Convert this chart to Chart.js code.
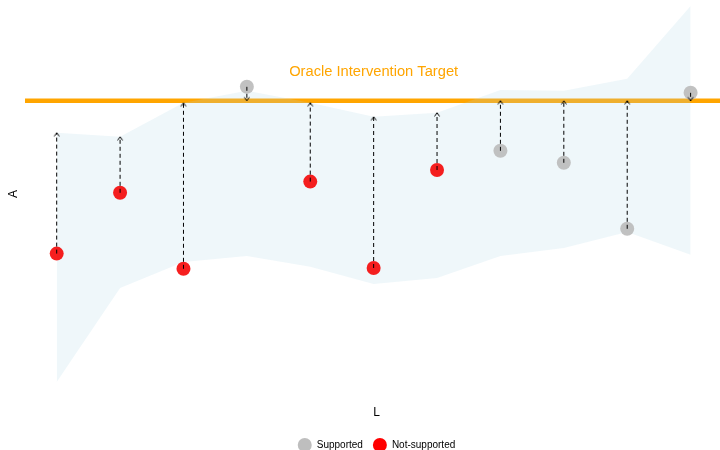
<!DOCTYPE html>
<html>
<head>
<meta charset="utf-8">
<script src="https://cdn.jsdelivr.net/npm/chart.js@4.4.1/dist/chart.umd.min.js"></script>
<style>
  html, body { margin: 0; padding: 0; background: #fff; overflow: hidden; }
  /* canvas overhangs the page a little so the panel can run past the top and right edges */
  #wrap { position: absolute; left: 0; top: -12px; width: 728px; height: 472px; }
</style>
</head>
<body>
<div id="wrap"><canvas id="targetChart"></canvas></div>
<script>
const steps = [1, 2, 3, 4, 5, 6, 7, 8, 9, 10, 11];
const observed = [36.6, 51.8, 32.8, 78.3, 54.6, 33.0, 57.5, 62.3, 59.3, 42.8, 76.8];
const upperBound = [66.8, 65.8, 74.3, 77.3, 74.3, 70.8, 71.8, 77.5, 77.3, 80.3, 98.5];
const lowerBound = [4.5, 28.0, 34.5, 36.0, 33.3, 29.0, 30.5, 36.0, 38.0, 42.0, 36.3];
const support = ["Not-supported", "Not-supported", "Not-supported", "Supported", "Not-supported",
    "Not-supported", "Not-supported", "Supported", "Supported", "Supported", "Supported"];
const groups = ["Supported", "Not-supported"];
const targetLevel = 74.8;
const targetLabel = "Oracle Intervention Target";
const targetLabelAt = { x: 6, y: 82 };

const groupColors = { "Supported": "#BEBEBE", "Not-supported": "#FF0000" };
const pointColors = { "Supported": "rgba(190,190,190,0.95)", "Not-supported": "rgba(245,0,0,0.88)" };

// each arrow runs from the point towards the target, stopped at the band edge
const arrowEnd = steps.map((s, i) => Math.min(Math.max(targetLevel, lowerBound[i]), upperBound[i]));

// open arrow head, tip in the middle of the little canvas
const arrowHead = document.createElement("canvas");
arrowHead.width = 12;
arrowHead.height = 12;
(function () {
    const c = arrowHead.getContext("2d");
    c.strokeStyle = "#000";
    c.lineWidth = 1;
    c.beginPath();
    c.moveTo(3.5, 9.5);
    c.lineTo(6, 6);
    c.lineTo(8.5, 9.5);
    c.stroke();
})();

Chart.defaults.font.family = "'Liberation Sans', Arial, sans-serif";
Chart.defaults.color = "#000";

const xMin = 0.5;
const xMax = 11.59;

const datasets = [];

// dataset order: lower "order" is drawn on top
datasets.push({
    label: "target",
    data: [{ x: xMin, y: targetLevel }, { x: xMax, y: targetLevel }],
    borderColor: "#FFA500",
    borderWidth: 4.5,
    pointRadius: 0,
    fill: false,
    order: 5
});

datasets.push({
    label: "upper",
    data: steps.map((s, i) => ({ x: s, y: upperBound[i] })),
    borderColor: "transparent",
    borderWidth: 0,
    pointRadius: 0,
    backgroundColor: "rgba(173,216,230,0.2)",
    fill: "+1",
    order: 4
});

datasets.push({
    label: "lower",
    data: steps.map((s, i) => ({ x: s, y: lowerBound[i] })),
    borderColor: "transparent",
    borderWidth: 0,
    pointRadius: 0,
    fill: false,
    order: 4
});

groups.forEach((g, k) => {
    datasets.push({
        label: g,
        data: steps.map((s, i) => support[i] === g ? { x: s, y: observed[i] } : null).filter(Boolean),
        showLine: false,
        pointRadius: 7,
        pointBorderWidth: 0,
        pointBackgroundColor: pointColors[g],
        backgroundColor: pointColors[g],
        borderColor: pointColors[g],
        pointStyle: "circle",
        order: 2 + k
    });
});

datasets.push({
    label: "arrows",
    data: steps.flatMap((s, i) => [{ x: s, y: observed[i] }, { x: s, y: arrowEnd[i] }, { x: s, y: null }]),
    borderColor: "#000",
    borderWidth: 1,
    borderDash: [4, 3],
    spanGaps: false,
    fill: false,
    pointStyle: ctx => ctx.dataIndex % 3 === 1 ? arrowHead : "circle",
    pointRadius: ctx => ctx.dataIndex % 3 === 1 ? 1 : 0,
    pointRotation: ctx => {
        const i = Math.floor(ctx.dataIndex / 3);
        return observed[i] > arrowEnd[i] ? 180 : 0;
    },
    order: 1
});

const targetText = {
    id: "targetText",
    afterDatasetsDraw(chart) {
        const { ctx, scales: { x, y } } = chart;
        ctx.save();
        ctx.font = "14.7px 'Liberation Sans', Arial, sans-serif";
        ctx.fillStyle = "#FFA500";
        ctx.textAlign = "center";
        ctx.textBaseline = "middle";
        ctx.fillText(targetLabel, x.getPixelForValue(targetLabelAt.x), y.getPixelForValue(targetLabelAt.y));
        ctx.restore();
    }
};

new Chart(document.getElementById("targetChart").getContext("2d"), {
    type: "line",
    data: { datasets: datasets },
    plugins: [targetText],
    options: {
        responsive: true,
        maintainAspectRatio: false,
        animation: false,
        events: [],
        layout: { padding: 0, autoPadding: false },
        scales: {
            x: {
                type: "linear",
                min: xMin,
                max: xMax,
                ticks: { display: false },
                grid: { display: false, drawTicks: false },
                border: { display: false },
                title: { display: true, text: "L", font: { size: 12 }, padding: { top: 0, bottom: 10 } },
                afterFit: axis => { axis.height = 30; }
            },
            y: {
                min: 0,
                max: 103,
                ticks: { display: false },
                grid: { display: false, drawTicks: false },
                border: { display: false },
                title: { display: true, text: "A", font: { size: 12 }, padding: { top: 6, bottom: 0 } },
                afterFit: axis => { axis.width = 25; }
            }
        },
        plugins: {
            tooltip: { enabled: false },
            legend: {
                position: "bottom",
                fullSize: false,
                labels: {
                    usePointStyle: true,
                    pointStyleWidth: 14,
                    padding: 10,
                    font: { size: 10 },
                    color: "#000",
                    filter: item => groups.includes(item.text),
                    generateLabels: chart => {
                        const items = Chart.defaults.plugins.legend.labels.generateLabels(chart);
                        items.forEach(item => {
                            if (groupColors[item.text]) {
                                item.fillStyle = groupColors[item.text];
                                item.strokeStyle = groupColors[item.text];
                                item.lineWidth = 0;
                            }
                        });
                        return items;
                    }
                }
            }
        }
    }
});
</script>
</body>
</html>
